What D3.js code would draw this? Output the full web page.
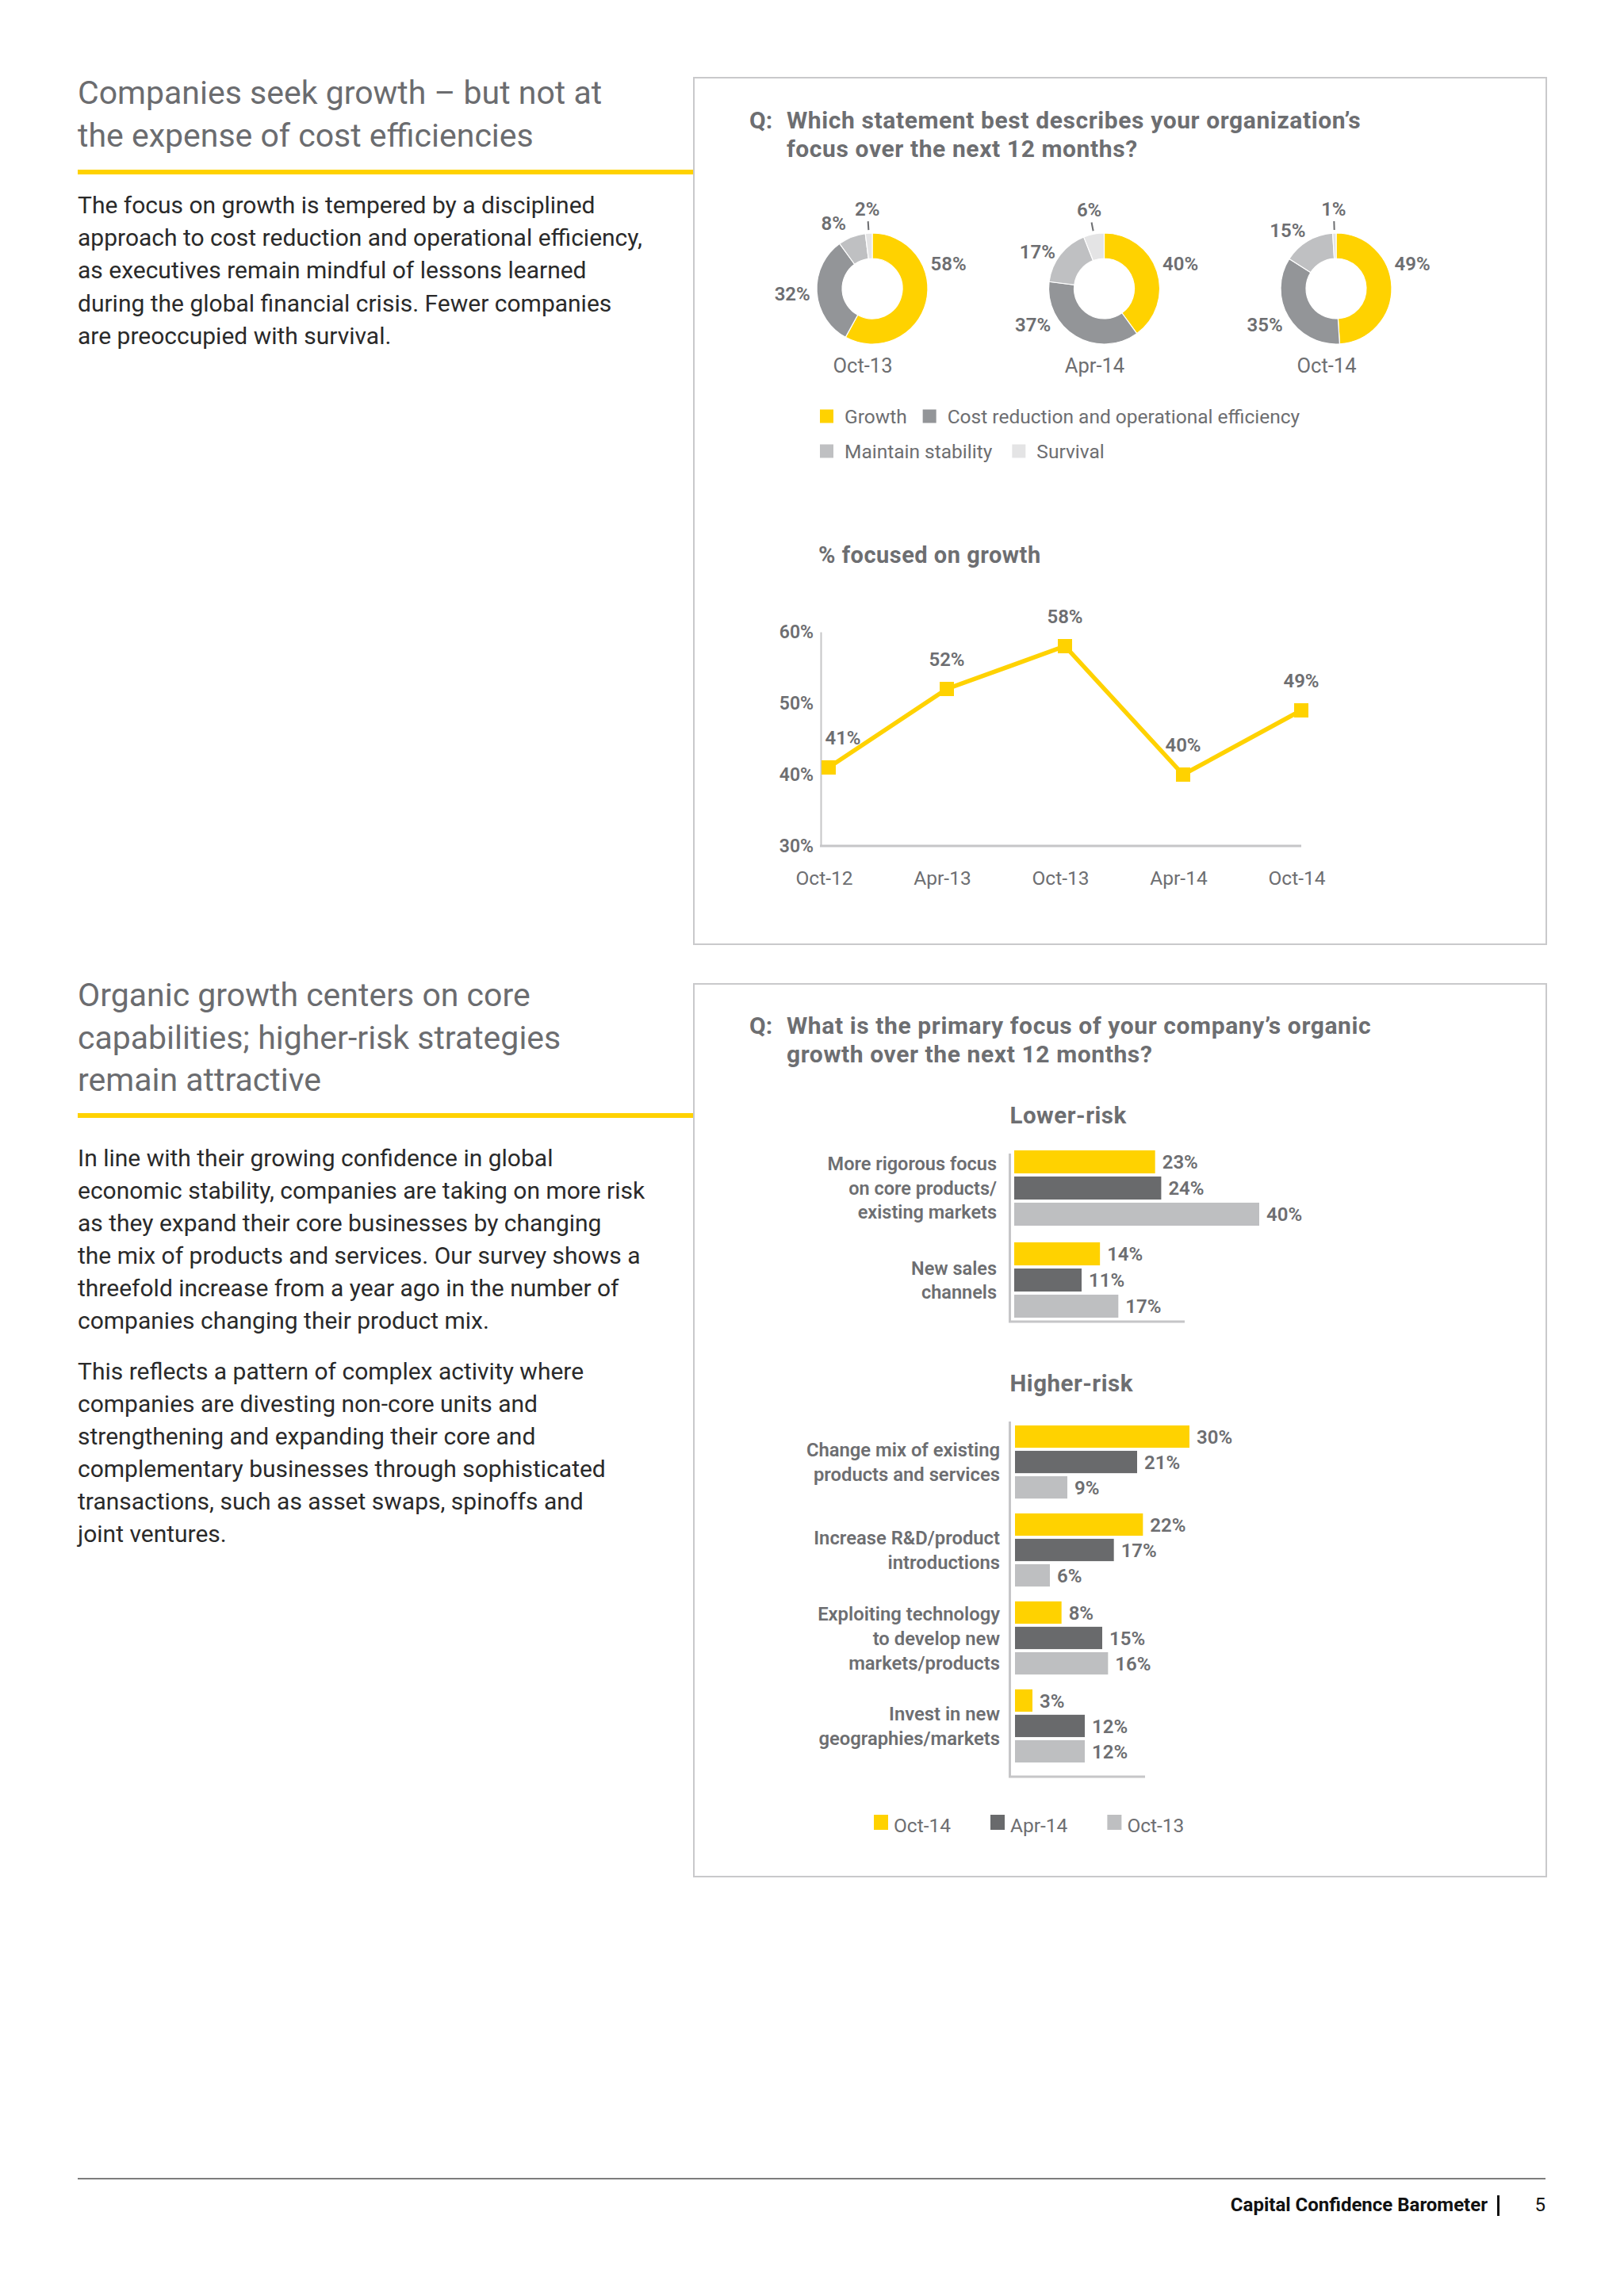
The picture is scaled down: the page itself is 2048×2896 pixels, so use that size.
<!DOCTYPE html>
<html><head><meta charset="utf-8">
<script src="https://cdn.jsdelivr.net/npm/d3@7"></script>
<style>
html,body{margin:0;padding:0;background:#fff;}
svg{display:block;font-family:Roboto,"Open Sans",Lato,sans-serif;}
</style>
</head><body>
<svg id="page" width="2048" height="2896"></svg>
<script>
// ---------------- DATA ----------------
const donutPeriods = ["Oct-13", "Apr-14", "Oct-14"];
const focusCategories = ["Growth", "Cost reduction and operational efficiency", "Maintain stability", "Survival"];
const growthShare = [58, 40, 49];
const costShare = [32, 37, 35];
const stabilityShare = [8, 17, 15];
const survivalShare = [2, 6, 1];

const trendPeriods = ["Oct-12", "Apr-13", "Oct-13", "Apr-14", "Oct-14"];
const growthTrend = [41, 52, 58, 40, 49];
const trendTicks = [30, 40, 50, 60];

const barSeries = ["Oct-14", "Apr-14", "Oct-13"];
const lowerRiskCategories = [["More rigorous focus", "on core products/", "existing markets"], ["New sales", "channels"]];
const lowerOct14 = [23, 14];
const lowerApr14 = [24, 11];
const lowerOct13 = [40, 17];
const higherRiskCategories = [["Change mix of existing", "products and services"], ["Increase R&D/product", "introductions"], ["Exploiting technology", "to develop new", "markets/products"], ["Invest in new", "geographies/markets"]];
const higherOct14 = [30, 22, 8, 3];
const higherApr14 = [21, 17, 15, 12];
const higherOct13 = [9, 6, 16, 12];

const title1 = ["Companies seek growth \u2013 but not at", "the expense of cost efficiencies"];
const para1 = ["The focus on growth is tempered by a disciplined", "approach to cost reduction and operational efficiency,", "as executives remain mindful of lessons learned", "during the global financial crisis. Fewer companies", "are preoccupied with survival."];
const title2 = ["Organic growth centers on core", "capabilities; higher-risk strategies", "remain attractive"];
const para2 = ["In line with their growing confidence in global", "economic stability, companies are taking on more risk", "as they expand their core businesses by changing", "the mix of products and services. Our survey shows a", "threefold increase from a year ago in the number of", "companies changing their product mix."];
const para3 = ["This reflects a pattern of complex activity where", "companies are divesting non-core units and", "strengthening and expanding their core and", "complementary businesses through sophisticated", "transactions, such as asset swaps, spinoffs and", "joint ventures."];
const q1 = ["Which statement best describes your organization\u2019s", "focus over the next 12 months?"];
const q2 = ["What is the primary focus of your company\u2019s organic", "growth over the next 12 months?"];

// ---------------- STYLE ----------------
const GRAY = "#6d6e71", YEL = "#ffd200", DARK = "#696a6c", LIGHT = "#bebfc1", AXIS = "#c6c6c8";
const donutColors = [YEL, "#939598", "#bfc0c2", "#e4e4e5"];
const barColors = [YEL, DARK, LIGHT];
const FF = "Roboto,'Open Sans',sans-serif";

const svg = d3.select("#page");
svg.append("rect").attr("width", 2048).attr("height", 2896).attr("fill", "#fff");

function textLines(arr, x, y0, lh, opts) {
  const t = svg.append("g");
  arr.forEach((s, i) => {
    t.append("text").attr("x", x).attr("y", y0 + i * lh).text(s)
      .attr("font-size", opts.size).attr("fill", opts.fill)
      .attr("font-weight", opts.weight || 400)
      .attr("letter-spacing", opts.ls || 0)
      .attr("text-anchor", opts.anchor || "start");
  });
  return t;
}

// ---------------- LEFT COLUMN ----------------
textLines(title1, 98, 131, 54, {size: 41, fill: "#6b6c6f"});
svg.append("rect").attr("x", 98).attr("y", 214).attr("width", 777).attr("height", 6).attr("fill", YEL);
textLines(para1, 98, 269, 41.2, {size: 30, fill: "#2a2a2a"});

textLines(title2, 98, 1269, 53.5, {size: 41, fill: "#6b6c6f"});
svg.append("rect").attr("x", 98).attr("y", 1404).attr("width", 777).attr("height", 6).attr("fill", YEL);
textLines(para2, 98, 1471, 41, {size: 30, fill: "#2a2a2a"});
textLines(para3, 98, 1740, 41, {size: 30, fill: "#2a2a2a"});

// ---------------- BOXES ----------------
svg.append("rect").attr("x", 875).attr("y", 98).attr("width", 1075).attr("height", 1093)
  .attr("fill", "none").attr("stroke", "#c9c9cb").attr("stroke-width", 2);
svg.append("rect").attr("x", 875).attr("y", 1241).attr("width", 1075).attr("height", 1126)
  .attr("fill", "none").attr("stroke", "#c9c9cb").attr("stroke-width", 2);

// Question titles
function question(lines, y0) {
  svg.append("text").attr("x", 945).attr("y", y0).text("Q:")
    .attr("font-size", 30).attr("font-weight", 700).attr("fill", GRAY);
  textLines(lines, 992, y0, 35.5, {size: 30, weight: 700, fill: GRAY, ls: 0.6});
}
question(q1, 162);
question(q2, 1304);

// ---------------- DONUTS ----------------
const donutSeries = [growthShare, costShare, stabilityShare, survivalShare];
const donutX = d3.scalePoint().domain(donutPeriods).range([1100, 1685]);
const donutCY = 364;
const arc = d3.arc().innerRadius(38).outerRadius(70);
const pie = d3.pie().sort(null).value(d => d.v);
const DEG = Math.PI / 180;
donutPeriods.forEach((p, j) => {
  const data = focusCategories.map((c, i) => ({c, i, v: donutSeries[i][j]}));
  const arcs = pie(data);
  const g = svg.append("g").attr("transform", `translate(${donutX(p)},${donutCY})`);
  g.selectAll("path").data(arcs).join("path")
    .attr("d", arc).attr("fill", d => donutColors[d.data.i])
    .attr("stroke", "#fff").attr("stroke-width", 1.2);
  arcs.forEach(a => {
    let mid = (a.startAngle + a.endAngle) / 2;
    // keep labels clear of the period caption below each ring
    if (mid < Math.PI) mid = Math.min(mid, 72 * DEG);
    else mid = Math.max(mid, 243 * DEG);
    // keep the stability label clear of the small survival label
    if (a.data.i === 2) mid -= 9 * DEG;
    const R = a.data.i === 2 ? 96 : 101;
    g.append("text").attr("x", R * Math.sin(mid)).attr("y", -R * Math.cos(mid)).attr("dy", "0.36em")
      .attr("text-anchor", "middle").attr("font-size", 24).attr("font-weight", 600).attr("fill", GRAY)
      .text(a.data.v + "%");
    if (a.data.i === 3) {
      const m = (a.startAngle + a.endAngle) / 2;
      g.append("line")
        .attr("x1", 74 * Math.sin(m)).attr("y1", -74 * Math.cos(m))
        .attr("x2", 85 * Math.sin(m)).attr("y2", -85 * Math.cos(m))
        .attr("stroke", GRAY).attr("stroke-width", 2);
    }
  });
  svg.append("text").attr("x", donutX(p) - 12).attr("y", 470).attr("text-anchor", "middle")
    .attr("font-size", 25.5).attr("fill", GRAY).text(p);
});

// donut legend
function flowLegend(items, colors, x0, yCenter, gap, sq, fontSize) {
  let x = x0;
  items.forEach((it, k) => {
    svg.append("rect").attr("x", x).attr("y", yCenter - sq[1] / 2).attr("width", sq[0]).attr("height", sq[1]).attr("fill", colors[k]);
    const t = svg.append("text").attr("x", x + sq[0] + 14).attr("y", yCenter).attr("dy", "0.35em")
      .attr("font-size", fontSize).attr("fill", GRAY).text(it);
    x = x + sq[0] + 14 + t.node().getComputedTextLength() + gap;
  });
}
flowLegend(focusCategories.slice(0, 2), donutColors.slice(0, 2), 1034, 525, 20, [17, 17], 24.5);
flowLegend(focusCategories.slice(2, 4), donutColors.slice(2, 4), 1034, 569, 25, [17, 17], 24.5);

// ---------------- LINE CHART ----------------
svg.append("text").attr("x", 1032).attr("y", 710).attr("font-size", 29).attr("font-weight", 700)
  .attr("letter-spacing", 0.5).attr("fill", GRAY).text("% focused on growth");
const lx = d3.scalePoint().domain(trendPeriods).range([1045, 1641]);
const ly = d3.scaleLinear().domain([30, 60]).range([1067, 797]);
const yAxis = svg.append("g").attr("transform", "translate(1035,0)")
  .call(d3.axisLeft(ly).tickValues(trendTicks).tickSize(0).tickPadding(9).tickFormat(d => d + "%"));
yAxis.select(".domain").attr("stroke", AXIS).attr("stroke-width", 2);
yAxis.selectAll("text").attr("font-size", 23).attr("font-weight", 600).attr("fill", GRAY).attr("font-family", FF);
svg.append("line").attr("x1", 1034).attr("x2", lx(trendPeriods[trendPeriods.length - 1]))
  .attr("y1", ly(30)).attr("y2", ly(30)).attr("stroke", AXIS).attr("stroke-width", 3);
const xAxis = svg.append("g").attr("transform", `translate(-6,${ly(30)})`)
  .call(d3.axisBottom(lx).tickSize(0).tickPadding(32));
xAxis.select(".domain").remove();
xAxis.selectAll("text").attr("font-size", 24.5).attr("fill", GRAY).attr("font-family", FF);

const lineData = trendPeriods.map((p, i) => ({p, v: growthTrend[i]}));
svg.append("path").datum(lineData)
  .attr("d", d3.line().x(d => lx(d.p)).y(d => ly(d.v)))
  .attr("fill", "none").attr("stroke", YEL).attr("stroke-width", 5.5).attr("stroke-linejoin", "miter");
svg.selectAll(".mk").data(lineData).join("rect").attr("class", "mk")
  .attr("x", d => lx(d.p) - 9).attr("y", d => ly(d.v) - 9).attr("width", 18).attr("height", 18).attr("fill", YEL);
svg.selectAll(".pl").data(lineData).join("text").attr("class", "pl")
  .attr("x", (d, i) => lx(d.p) + (i === 0 ? 18 : 0)).attr("y", d => ly(d.v) - 38).attr("dy", "0.36em")
  .attr("text-anchor", "middle").attr("font-size", 24).attr("font-weight", 600).attr("fill", GRAY)
  .text(d => d.v + "%");

// ---------------- BAR CHARTS ----------------
function barChart(cfg) {
  const gy = d3.scaleBand().domain(d3.range(cfg.cats.length)).range(cfg.yRange).paddingInner(cfg.padIn).paddingOuter(0);
  const sy = d3.scaleBand().domain(barSeries).range([0, gy.bandwidth()]).paddingInner(0.12).paddingOuter(0.06);
  const x = cfg.x;
  cfg.cats.forEach((lines, ci) => {
    const g = svg.append("g").attr("transform", `translate(0,${gy(ci)})`);
    barSeries.forEach((s, si) => {
      const v = cfg.vals[si][ci];
      g.append("rect").attr("x", x(0)).attr("y", sy(s)).attr("width", x(v) - x(0)).attr("height", sy.bandwidth())
        .attr("fill", barColors[si]);
      g.append("text").attr("x", x(v) + 9).attr("y", sy(s) + sy.bandwidth() / 2).attr("dy", "0.36em")
        .attr("font-size", 24).attr("font-weight", 600).attr("fill", GRAY).text(v + "%");
    });
    const cyc = gy(ci) + gy.bandwidth() / 2;
    lines.forEach((l, li) => {
      svg.append("text").attr("x", cfg.labelX).attr("y", cyc + (li - (lines.length - 1) / 2) * cfg.lh).attr("dy", "0.36em")
        .attr("text-anchor", "end").attr("font-size", cfg.labelSize).attr("font-weight", 600).attr("fill", GRAY).text(l);
    });
  });
  svg.append("line").attr("x1", cfg.axisX).attr("x2", cfg.axisX).attr("y1", cfg.axisTop).attr("y2", cfg.axisBottom)
    .attr("stroke", AXIS).attr("stroke-width", 3);
  svg.append("line").attr("x1", cfg.axisX - 1.5).attr("x2", cfg.axisRight).attr("y1", cfg.axisBottom).attr("y2", cfg.axisBottom)
    .attr("stroke", AXIS).attr("stroke-width", 3);
  svg.append("text").attr("x", cfg.axisX).attr("y", cfg.titleY).attr("font-size", 29.5).attr("font-weight", 700)
    .attr("letter-spacing", 0.5).attr("fill", GRAY).text(cfg.title);
}
barChart({
  title: "Lower-risk", titleY: 1417, cats: lowerRiskCategories, vals: [lowerOct14, lowerApr14, lowerOct13],
  yRange: [1449, 1664], padIn: 0.147, x: d3.scaleLinear().domain([0, 40]).range([1279, 1588]),
  axisX: 1273.5, axisTop: 1455, axisBottom: 1667, axisRight: 1494, labelX: 1257, lh: 30.5, labelSize: 23.5
});
barChart({
  title: "Higher-risk", titleY: 1755, cats: higherRiskCategories, vals: [higherOct14, higherApr14, higherOct13],
  yRange: [1796, 2225], padIn: 0.134, x: d3.scaleLinear().domain([0, 30]).range([1280, 1500]),
  axisX: 1273.5, axisTop: 1793, axisBottom: 2241, axisRight: 1444, labelX: 1261, lh: 31, labelSize: 23.8
});
// bar legend
(function () {
  let x = 1102;
  barSeries.forEach((s, k) => {
    svg.append("rect").attr("x", x).attr("y", 2289).attr("width", 18).attr("height", 19).attr("fill", barColors[k]);
    const t = svg.append("text").attr("x", x + 25).attr("y", 2311).attr("font-size", 24.5).attr("fill", GRAY).text(s);
    x = x + 25 + t.node().getComputedTextLength() + 50;
  });
})();

// ---------------- FOOTER ----------------
svg.append("line").attr("x1", 98).attr("x2", 1949).attr("y1", 2748).attr("y2", 2748).attr("stroke", "#7d7d7d").attr("stroke-width", 2);
svg.append("text").attr("x", 1876).attr("y", 2789).attr("text-anchor", "end").attr("font-size", 24)
  .attr("font-weight", 700).attr("fill", "#111").text("Capital Confidence Barometer");
svg.append("rect").attr("x", 1888).attr("y", 2769).attr("width", 3).attr("height", 26).attr("fill", "#111");
svg.append("text").attr("x", 1949).attr("y", 2789).attr("text-anchor", "end").attr("font-size", 24)
  .attr("fill", "#111").text("5");
</script>
</body></html>
